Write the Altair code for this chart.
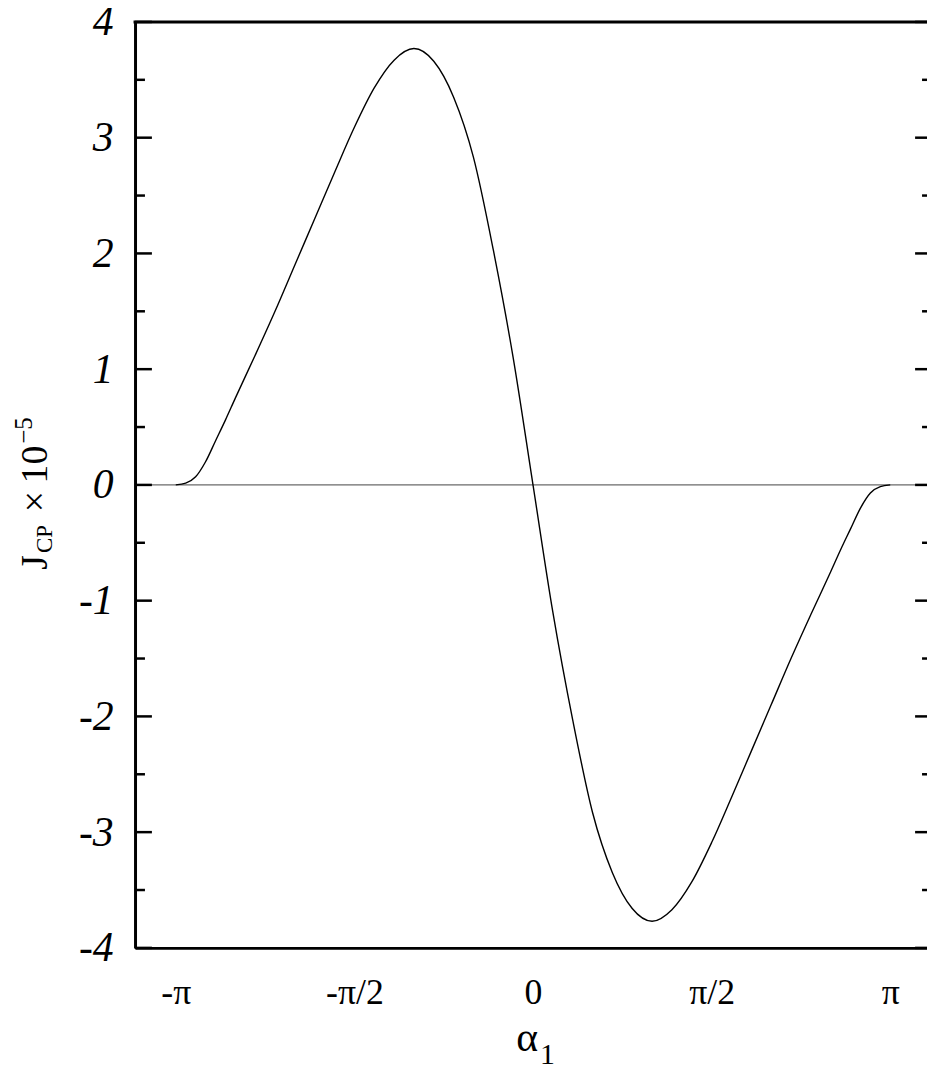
import altair as alt
import pandas as pd
import numpy as np

alpha_deg = [-180, -175, -170, -165, -160, -155, -150, -140, -130, -120, -110, -100, -90,
             -80, -70, -60, -50, -40, -30, -20, -10, 0,
             10, 20, 30, 40, 50, 60, 70, 80, 90, 100, 110, 120, 130, 140, 150, 155,
             160, 165, 170, 175, 180]
jcp = [0.0, 0.015, 0.07, 0.20, 0.38, 0.56, 0.75, 1.12, 1.50, 1.90, 2.30, 2.70, 3.09,
       3.43, 3.67, 3.77, 3.66, 3.35, 2.83, 2.03, 1.10, 0.0,
       -1.10, -2.03, -2.83, -3.35, -3.66, -3.77, -3.67, -3.43, -3.09, -2.70, -2.30,
       -1.90, -1.50, -1.12, -0.75, -0.56, -0.38, -0.20, -0.07, -0.015, 0.0]

x_tick_values = [-np.pi, -np.pi / 2, 0.0, np.pi / 2, np.pi]
y_major = [-4, -3, -2, -1, 0, 1, 2, 3, 4]
y_minor = [-3.5, -2.5, -1.5, -0.5, 0.5, 1.5, 2.5, 3.5]

df = pd.DataFrame({"alpha": np.deg2rad(alpha_deg), "j": jcp})

W, H = 798, 933
FONT = "Liberation Serif"

xs = alt.Scale(domain=[-3.5, 3.465], nice=False, zero=False)
ys = alt.Scale(domain=[-4, 4], nice=False, zero=False)

x_lab = ("datum.value < -3 ? '-π' : datum.value < -1 ? '-π/2' : "
         "datum.value < 1 ? '0' : datum.value < 3 ? 'π/2' : 'π'")
y_lab = "datum.value < 0 ? '-' + abs(datum.value) : '' + datum.value"

curve = alt.Chart(df).mark_line(color="black", strokeWidth=1.4, interpolate="monotone").encode(
    x=alt.X("alpha:Q", scale=xs,
            axis=alt.Axis(values=x_tick_values, labelExpr=x_lab, title=None, ticks=False,
                          grid=False, domain=True, domainWidth=3, domainColor="black",
                          labelFont=FONT, labelFontSize=36, labelColor="black",
                          labelPadding=28)),
    y=alt.Y("j:Q", scale=ys,
            axis=alt.Axis(values=y_major, labelExpr=y_lab, title=None, ticks=False,
                          grid=False, domain=True, domainWidth=3, domainColor="black",
                          labelFont=FONT, labelFontSize=42, labelFontStyle="italic",
                          labelColor="black", labelPadding=22)),
)

zero = alt.Chart(pd.DataFrame({"z": [0]})).mark_rule(color="#444", strokeWidth=1).encode(
    y=alt.Y("z:Q", scale=ys), x=alt.value(0), x2=alt.value(W))

top = alt.Chart(pd.DataFrame({"z": [0]})).mark_rule(color="black", strokeWidth=3).encode(
    y=alt.value(0), x=alt.value(-1.5), x2=alt.value(W))

maj = pd.DataFrame({"v": y_major})
mnr = pd.DataFrame({"v": y_minor})
lmaj = alt.Chart(maj).mark_rule(color="black", strokeWidth=2.5).encode(
    y=alt.Y("v:Q", scale=ys), x=alt.value(0), x2=alt.value(17))
lmin = alt.Chart(mnr).mark_rule(color="black", strokeWidth=2.5).encode(
    y=alt.Y("v:Q", scale=ys), x=alt.value(0), x2=alt.value(10))
rmaj = alt.Chart(maj).mark_rule(color="black", strokeWidth=2.5).encode(
    y=alt.Y("v:Q", scale=ys), x=alt.value(W - 12), x2=alt.value(W))
rmin = alt.Chart(mnr).mark_rule(color="black", strokeWidth=2.5).encode(
    y=alt.Y("v:Q", scale=ys), x=alt.value(W - 5), x2=alt.value(W))


def txt(s, x, y, size, angle=0, align="left"):
    return alt.Chart(pd.DataFrame({"t": [s]})).mark_text(
        font=FONT, fontSize=size, color="black", angle=angle, align=align,
        baseline="alphabetic").encode(x=alt.value(x), y=alt.value(y), text="t:N")


labels = [
    txt("J", -89, 552, 38, angle=270),
    txt("CP", -84, 535, 23, angle=270),
    txt("×", -89, 494, 38, angle=270),
    txt("10", -89, 465, 38, angle=270),
    txt("−5", -104, 425, 25, angle=270),
    txt("α", 384, 1037, 42),
    txt("1", 408, 1050, 30),
]

chart = alt.layer(zero, curve, top, lmaj, lmin, rmaj, rmin, *labels).properties(
    width=W, height=H,
    autosize=alt.AutoSizeParams(type="none"),
    padding={"left": 128, "top": 10, "right": 0, "bottom": 120},
).configure_view(stroke=None).configure(background="white")

chart.save("out.html", embed_options={"renderer": "svg", "actions": False})
